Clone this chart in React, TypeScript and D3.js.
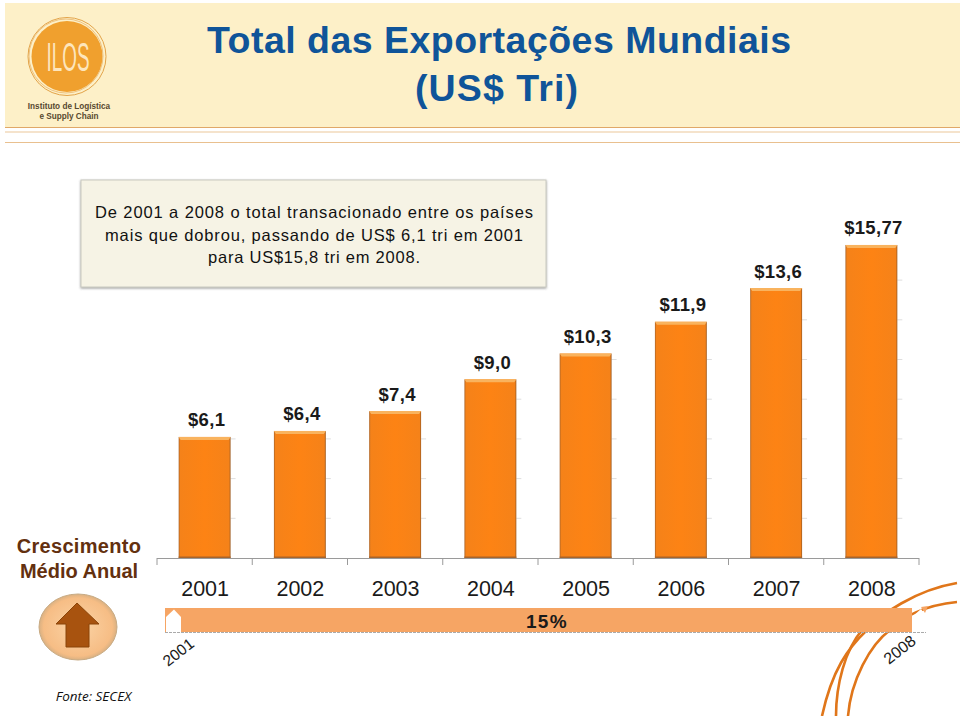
import React from "react";
import * as d3 from "d3";

const years = ["2001", "2002", "2003", "2004", "2005", "2006", "2007", "2008"];
const values = [6.1, 6.4, 7.4, 9.0, 10.3, 11.9, 13.6, 15.77];
const valueLabels = ["$6,1", "$6,4", "$7,4", "$9,0", "$10,3", "$11,9", "$13,6", "$15,77"];
const yTicks = [2, 4, 6, 8, 10, 12, 14, 16];
const noteLines = [
  "De 2001 a 2008 o total transacionado entre os países",
  "mais que dobrou, passando de US$ 6,1 tri em 2001",
  "para US$15,8 tri em 2008.",
];

const x = d3.scaleBand<string>().domain(years).range([157, 919]).paddingInner(0.455).paddingOuter(0.2275);
const y = d3.scaleLinear().domain([0, 16]).range([558, 240.4]);
const font = "'Liberation Sans', Arial, sans-serif";

const arc1 = d3.path();
arc1.moveTo(822, 716);
arc1.bezierCurveTo(832, 670, 848, 648, 867, 630);
arc1.bezierCurveTo(880, 615, 915, 590, 957, 583);
const arc2 = d3.path();
arc2.moveTo(836, 716);
arc2.bezierCurveTo(836, 685, 845, 650, 862, 630);
arc2.lineTo(872, 620);
const arc3 = d3.path();
arc3.moveTo(848, 716);
arc3.bezierCurveTo(851, 680, 870, 645, 890, 630);
arc3.bezierCurveTo(900, 618, 925, 605, 957, 602);

export default function App() {
  const bw = x.bandwidth();
  return (
    <svg width={960} height={716} viewBox="0 0 960 716" style={{ position: "absolute", left: 0, top: 0, background: "#fff" }} fontFamily={font}>
      <defs>
        <linearGradient id="bevel" x1="0" x2="1" y1="0" y2="0">
          <stop offset="0" stopColor="#a9642a" />
          <stop offset="0.03" stopColor="#f58219" />
          <stop offset="0.5" stopColor="#fd8314" />
          <stop offset="0.97" stopColor="#f58219" />
          <stop offset="1" stopColor="#9a5a22" />
        </linearGradient>
        <radialGradient id="btn" cx="0.5" cy="0.5" r="0.55">
          <stop offset="0" stopColor="#fbd4a6" />
          <stop offset="0.8" stopColor="#f6bd85" />
          <stop offset="1" stopColor="#c2a67f" />
        </radialGradient>
        <filter id="soft" x="-5%" y="-10%" width="110%" height="125%">
          <feDropShadow dx="0" dy="1" stdDeviation="1" floodColor="#555" floodOpacity="0.6" />
        </filter>
      </defs>

      <rect x={5} y={3} width={955} height={124} fill="#fdf0c8" />
      <line x1={5} x2={960} y1={127.5} y2={127.5} stroke="#e0a868" strokeWidth={1.2} />
      <line x1={5} x2={960} y1={132} y2={132} stroke="#ecc79a" strokeWidth={1.2} />
      <line x1={5} x2={960} y1={142.5} y2={142.5} stroke="#e9c08f" strokeWidth={1.2} />

      <circle cx={67} cy={56.5} r={35.5} fill="#f0a02e" />
      <circle cx={67} cy={56.5} r={39} fill="none" stroke="#e3a44a" strokeWidth={1} />
      <circle cx={66} cy={56} r={37} fill="none" stroke="#e8b56c" strokeWidth={0.8} />
      <text x={68} y={71} textAnchor="middle" fontSize={41} fill="#fde6bd" textLength={43} lengthAdjust="spacingAndGlyphs" fontFamily="'Liberation Sans Narrow', 'Liberation Sans'">ILOS</text>
      <text x={69} y={109} textAnchor="middle" fontSize={8.2} fontWeight="bold" fill="#57482f">Instituto de Logística</text>
      <text x={69} y={119} textAnchor="middle" fontSize={8.2} fontWeight="bold" fill="#57482f">e Supply Chain</text>

      <text x={499} y={53} textAnchor="middle" fontSize={37.5} fontWeight="bold" fill="#0f5499" textLength={584} lengthAdjust="spacing">Total das Exportações Mundiais</text>
      <text x={496.5} y={101} textAnchor="middle" fontSize={37.5} fontWeight="bold" fill="#0f5499" textLength={163} lengthAdjust="spacing">(US$ Tri)</text>

      <rect x={81} y={180} width={465} height={107} fill="#f6f3e5" stroke="#c9c9c0" strokeWidth={1} filter="url(#soft)" />
      {noteLines.map((t, i) => (
        <text key={t} x={314} y={218 + i * 22.5} textAnchor="middle" fontSize={16.5} fill="#111" textLength={[438, 418, 212][i]} lengthAdjust="spacing">{t}</text>
      ))}

      {yTicks.map((t) => (
        <g key={t}>
          {years.map((yr, i) => (y(t) >= y(values[i]) ? (
            <line key={yr} x1={x(yr)! + bw} x2={x(yr)! + bw + 5} y1={y(t)} y2={y(t)} stroke="#dedede" strokeWidth={1} />
          ) : null))}
        </g>
      ))}

      {years.map((yr, i) => {
        const top = y(values[i]);
        const bx = x(yr)!;
        return (
          <g key={yr}>
            <rect x={bx} y={top} width={bw} height={558 - top} fill="url(#bevel)" />
            <path d={`M${bx},${top} h${bw} l-2,3 h${-bw + 4} z`} fill="#f9b35e" />
            <rect x={bx} y={556.5} width={bw} height={1.5} fill="#a9642a" />
            <text x={bx + bw / 2 + 2} y={top - 10.5} textAnchor="middle" fontSize={18.5} fontWeight="bold" letterSpacing={0.3} fill="#1a1a1a">{valueLabels[i]}</text>
          </g>
        );
      })}

      <line x1={157} x2={919} y1={558.5} y2={558.5} stroke="#9a9a9a" />
      {[...years.map((yr) => x(yr)! - x.step() * 0.2275), 919].map((p) => (
        <line key={p} x1={p} x2={p} y1={558} y2={565} stroke="#9a9a9a" />
      ))}
      {years.map((yr) => (
        <text key={yr} x={x(yr)! + bw / 2 + 0.5} y={596} textAnchor="middle" fontSize={21.5} fill="#1a1a1a">{yr}</text>
      ))}

      <path d={arc1.toString()} fill="none" stroke="#e0761a" strokeWidth={2.6} />
      <path d={arc2.toString()} fill="none" stroke="#e0761a" strokeWidth={2.6} />
      <path d={arc3.toString()} fill="none" stroke="#e0761a" strokeWidth={2.6} />

      <rect x={165} y={608} width={747} height={24} fill="#f6a564" />
      <line x1={165} x2={926} y1={632.5} y2={632.5} stroke="#aaa" strokeWidth={1} strokeDasharray="3 1" />
      <path d="M166,632 V617 L174,609.5 L181,617 V632 Z" fill="#fff" />
      <path d="M912,632 V617 L921,609 L927,617 V632 Z" fill="#fff" />
      <path d="M921,607 L928,606 L925,613 Z" fill="#f6a564" />
      <text x={547} y={628} textAnchor="middle" fontSize={19} fontWeight="bold" letterSpacing={1.4} fill="#1a1a1a">15%</text>
      <text transform="translate(168,667) rotate(-38)" fontSize={15.5} fill="#1a1a1a">2001</text>
      <text transform="translate(889,665) rotate(-38)" fontSize={16} fill="#1a1a1a">2008</text>

      <text x={79} y={553} textAnchor="middle" fontSize={20} fontWeight="bold" letterSpacing={0.3} fill="#63300f">Crescimento</text>
      <text x={79} y={578} textAnchor="middle" fontSize={20} fontWeight="bold" fill="#63300f">Médio Anual</text>
      <ellipse cx={78} cy={627} rx={39} ry={33} fill="url(#btn)" stroke="#c8ab84" />
      <path d="M77,603 L99,624 H89 V647 H66 V624 H56 Z" fill="#a8530f" stroke="#8a4509" />

      <text x={93.5} y={701} textAnchor="middle" fontSize={13.5} fontStyle="italic" fill="#111" fontFamily="'Open Sans', 'Noto Sans', sans-serif">Fonte: SECEX</text>
    </svg>
  );
}
